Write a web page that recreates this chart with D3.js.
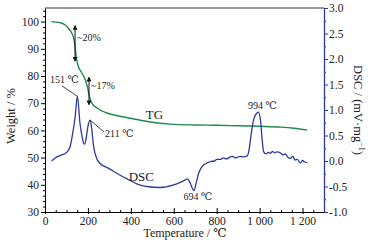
<!DOCTYPE html>
<html>
<head>
<meta charset="utf-8">
<script src="https://cdn.jsdelivr.net/npm/d3@7"></script>
<style>
  body { margin: 0; background: #fff; }
  svg text { font-family: "Liberation Serif", "DejaVu Serif", serif; fill: #222; }
</style>
</head>
<body>
<svg id="chart" width="374" height="246"></svg>
<script>
// TG curve (temperature / weight %)
const tgTemp = [30, 70, 90, 101, 115, 124, 135, 140, 145, 155, 171, 187, 197, 207, 218, 241, 288, 350, 428, 490, 584, 700, 800, 900, 1000, 1100, 1160, 1222];
const tgWeight = [100, 99.6, 99, 98.3, 97, 95.9, 93.5, 91, 87.3, 83.6, 81.2, 78.7, 76.2, 72.5, 70.1, 68.3, 66.4, 65.2, 64, 63.1, 62.3, 62, 61.9, 61.7, 61.5, 61.2, 60.8, 60.1];

// DSC curve (temperature / mV·mg-1)
const dscTemp = [31, 47, 78, 101, 117, 129, 140, 151, 163, 171, 179, 184, 192, 200, 211, 218, 226, 241, 257, 290, 319, 350, 397, 440, 475, 537, 599, 630, 650, 664, 675, 694, 705, 716, 730, 739, 755, 770, 790, 800, 817, 830, 845, 864, 875, 885, 895, 910, 925, 942, 950, 957, 965, 973, 985, 994, 1004, 1012, 1019, 1030, 1040, 1050, 1060, 1070, 1080, 1097, 1110, 1120, 1130, 1144, 1155, 1165, 1175, 1190, 1200, 1210, 1222];
const dscValue = [0.0, 0.06, 0.12, 0.17, 0.28, 0.54, 0.85, 1.27, 0.74, 0.52, 0.36, 0.33, 0.45, 0.68, 0.8, 0.62, 0.3, 0.05, -0.05, -0.13, -0.2, -0.28, -0.38, -0.47, -0.5, -0.52, -0.47, -0.42, -0.38, -0.35, -0.42, -0.58, -0.42, -0.24, -0.12, -0.08, -0.04, -0.01, 0.0, 0.03, 0.03, 0.06, 0.04, 0.08, 0.09, 0.06, 0.07, 0.09, 0.08, 0.1, 0.2, 0.41, 0.65, 0.82, 0.93, 0.96, 0.8, 0.41, 0.18, 0.14, 0.17, 0.15, 0.19, 0.16, 0.18, 0.16, 0.12, 0.14, 0.08, 0.05, 0.09, 0.02, 0.03, -0.04, 0.01, -0.02, -0.03];

// ticks
const xTicks = [0, 200, 400, 600, 800, 1000, 1200];
const xTickLabels = ["0", "200", "400", "600", "800", "1 000", "1 200"];
const weightTicks = [30, 40, 50, 60, 70, 80, 90, 100];
const dscTicks = [-1.0, -0.5, 0.0, 0.5, 1.0, 1.5, 2.0, 2.5, 3.0];

// peak labels
const peakTemps = [151, 211, 694, 994];
const peakLabels = ["151 ℃", "211 ℃", "694 ℃", "994 ℃"];

const svg = d3.select("#chart");
const GREEN = "#1f8a4c";
const BLUE = "#2d3a9c";

const mLeft = 45, mRight = 324, mTop = 8, mBottom = 212;

const x = d3.scaleLinear().domain([0, 1300]).range([mLeft, mRight]);
const yW = d3.scaleLinear().domain([30, 105]).range([mBottom, mTop]);
const yD = d3.scaleLinear().domain([-1, 3]).range([mBottom, mTop]);

// frame top line
svg.append("line")
    .attr("x1", mLeft).attr("x2", mRight)
    .attr("y1", mTop).attr("y2", mTop)
    .style("stroke", "#333").style("stroke-width", 1);

// x axis (ticks point inward)
const xMinor = d3.range(50, 1300, 50).filter(v => v % 200 !== 0);
svg.append("g")
    .attr("transform", `translate(0, ${mBottom})`)
    .call(d3.axisBottom(x).tickValues(xMinor).tickSize(-2).tickSizeOuter(0).tickFormat(""))
    .call(g => g.select(".domain").remove());
const gx = svg.append("g")
    .attr("transform", `translate(0, ${mBottom})`)
    .call(d3.axisBottom(x).tickValues(xTicks).tickSize(-4).tickSizeOuter(0)
        .tickFormat((d, i) => xTickLabels[i]));
gx.selectAll("text").attr("y", 5).attr("dy", "0.71em").style("font-size", "11.5px");
gx.selectAll(".tick line").clone().attr("y2", 2);

// left axis
const wMinor = d3.range(30, 105, 2).filter(v => v % 10 !== 0);
svg.append("g")
    .attr("transform", `translate(${mLeft}, 0)`)
    .call(d3.axisLeft(yW).tickValues(wMinor).tickSize(2).tickSizeOuter(0).tickFormat(""))
    .call(g => g.select(".domain").remove());
const gl = svg.append("g")
    .attr("transform", `translate(${mLeft}, 0)`)
    .call(d3.axisLeft(yW).tickValues(weightTicks).tickSize(4).tickSizeOuter(0));
gl.selectAll("text").attr("x", -6).style("font-size", "11.5px");

// right axis (blue)
const dMinor = d3.range(-0.75, 3, 0.5);
svg.append("g")
    .attr("transform", `translate(${mRight}, 0)`)
    .call(d3.axisRight(yD).tickValues(dMinor).tickSize(2).tickSizeOuter(0).tickFormat(""))
    .call(g => g.select(".domain").remove())
    .call(g => g.selectAll("line").style("stroke", BLUE));
const gr = svg.append("g")
    .attr("transform", `translate(${mRight}, 0)`)
    .call(d3.axisRight(yD).tickValues(dscTicks).tickSize(4).tickSizeOuter(0)
        .tickFormat(d => d3.format(".1f")(d).replace("−", "-")));
gr.selectAll("line").style("stroke", BLUE);
gr.select(".domain").style("stroke", BLUE).style("stroke-width", 1.3);
gr.selectAll("text").attr("x", 5).style("font-size", "11.5px");

svg.selectAll(".tick text").style("fill", "#222");

// axis titles
svg.append("text")
    .attr("transform", "translate(15, 116) rotate(-90)")
    .attr("text-anchor", "middle")
    .style("font-size", "12.5px")
    .text("Weight / %");
svg.append("text")
    .attr("transform", "translate(354, 110) rotate(90)")
    .attr("text-anchor", "middle")
    .style("font-size", "12.5px")
    .html("DSC / (mV·mg<tspan dy='-5' font-size='8'>−1</tspan><tspan dy='5'>)</tspan>");
svg.append("text")
    .attr("x", 185).attr("y", 237)
    .attr("text-anchor", "middle")
    .style("font-size", "12px")
    .text("Temperature / ℃");

// curves
const tgData = tgTemp.map((t, i) => ({ t: t, v: tgWeight[i] }));
const dscData = dscTemp.map((t, i) => ({ t: t, v: dscValue[i] }));

svg.append("path")
    .datum(tgData)
    .attr("d", d3.line().x(d => x(d.t)).y(d => yW(d.v)).curve(d3.curveMonotoneX))
    .style("fill", "none").style("stroke", GREEN).style("stroke-width", 1.4);

svg.append("path")
    .datum(dscData)
    .attr("d", d3.line().x(d => x(d.t)).y(d => yD(d.v)).curve(d3.curveMonotoneX))
    .style("fill", "none").style("stroke", BLUE).style("stroke-width", 1.3);

// curve names
svg.append("text").attr("x", x(470)).attr("y", yW(63.5) - 2)
    .style("font-size", "13px").text("TG");
svg.append("text").attr("x", x(390)).attr("y", yD(-0.37) + 1)
    .style("font-size", "13px").text("DSC");

// mass-loss arrows
const arrowDefs = svg.append("defs");
arrowDefs.append("marker")
    .attr("id", "ah").attr("viewBox", "0 0 6 6")
    .attr("refX", 5).attr("refY", 3)
    .attr("markerWidth", 5).attr("markerHeight", 5)
    .attr("orient", "auto-start-reverse")
    .append("path").attr("d", "M0,0 L6,3 L0,6 Z").style("fill", "#111");

const lossArrows = [
    { t: 140, hi: 98.5, lo: 85.5, label: "~20%" },
    { t: 205, hi: 79.5, lo: 69.5, label: "~17%" }
];
lossArrows.forEach(a => {
    svg.append("line")
        .attr("x1", x(a.t)).attr("x2", x(a.t))
        .attr("y1", yW(a.hi)).attr("y2", yW(a.lo))
        .style("stroke", "#111").style("stroke-width", 1)
        .attr("marker-start", "url(#ah)").attr("marker-end", "url(#ah)");
    svg.append("text")
        .attr("x", x(a.t) + 2).attr("y", yW((a.hi + a.lo) / 2) - 2)
        .style("font-size", "10px").text(a.label);
});

// peak labels
// 151
svg.append("line")
    .attr("x1", 62).attr("y1", 86).attr("x2", x(peakTemps[0])).attr("y2", yD(1.27))
    .style("stroke", "#111").style("stroke-width", 0.8);
svg.append("text").attr("x", 50).attr("y", 83)
    .style("font-size", "10px").text(peakLabels[0]);
// 211
svg.append("line")
    .attr("x1", x(peakTemps[1])).attr("y1", yD(0.8)).attr("x2", 104).attr("y2", 132)
    .style("stroke", "#111").style("stroke-width", 0.8);
svg.append("text").attr("x", 105).attr("y", 137)
    .style("font-size", "10px").text(peakLabels[1]);
// 694
svg.append("text").attr("x", x(peakTemps[2]) + 4).attr("y", 200)
    .attr("text-anchor", "middle")
    .style("font-size", "10px").text(peakLabels[2]);
// 994
svg.append("text").attr("x", x(peakTemps[3]) + 4).attr("y", 109)
    .attr("text-anchor", "middle")
    .style("font-size", "10px").text(peakLabels[3]);
</script>
</body>
</html>
